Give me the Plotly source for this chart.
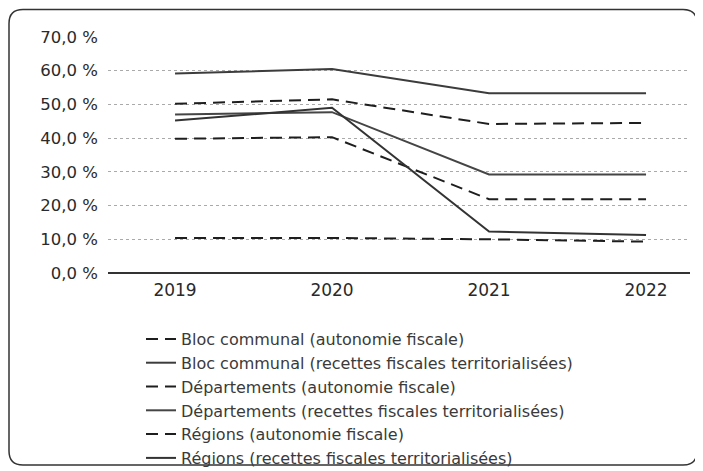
import plotly.graph_objects as go

years = [2019, 2020, 2021, 2022]
bloc_auto = [50.2, 51.5, 44.2, 44.5]
bloc_rft = [59.2, 60.5, 53.3, 53.3]
dep_auto = [39.8, 40.3, 21.9, 21.9]
dep_rft = [47.0, 47.7, 29.2, 29.2]
reg_auto = [10.4, 10.4, 10.0, 9.3]
reg_rft = [45.2, 49.0, 12.3, 11.3]

names = [
    "Bloc communal (autonomie fiscale)",
    "Bloc communal (recettes fiscales territorialisées)",
    "Départements (autonomie fiscale)",
    "Départements (recettes fiscales territorialisées)",
    "Régions (autonomie fiscale)",
    "Régions (recettes fiscales territorialisées)",
]
series = [bloc_auto, bloc_rft, dep_auto, dep_rft, reg_auto, reg_rft]
dashes = ["12px,7px", "solid", "12px,7px", "solid", "12px,7px", "solid"]
colors = ["#1e1e1e", "#3c3c3c", "#1e1e1e", "#454545", "#1e1e1e", "#333333"]

ytick_vals = [0, 10, 20, 30, 40, 50, 60, 70]
ytick_text = ["0,0 %", "10,0 %", "20,0 %", "30,0 %", "40,0 %", "50,0 %", "60,0 %", "70,0 %"]

fig = go.Figure()
for i, (n, s) in enumerate(zip(names, series)):
    fig.add_trace(go.Scatter(
        x=years, y=s, name=n, mode="lines",
        line=dict(color=colors[i], width=2, dash=dashes[i]),
        legendgroup=str(i),
    ))

# page has an 8px body margin: figure pixel = page pixel - 8
W, H = 695, 463
L, R, T, B = 100, 13, 29, 198
pw, ph = W - L - R, H - T - B

def px(x):
    return (x - L) / pw

def py(y):
    return (H - B - y) / ph

# rounded frame
x0, x1, yt, yb = px(1), px(689), py(1.5), py(457)
r = 14
rx, ry = r / pw, r / ph
path = (f"M {x0+rx},{yt} L {x1-rx},{yt} Q {x1},{yt} {x1},{yt-ry} "
        f"L {x1},{yb+ry} Q {x1},{yb} {x1-rx},{yb} "
        f"L {x0+rx},{yb} Q {x0},{yb} {x0},{yb+ry} "
        f"L {x0},{yt-ry} Q {x0},{yt} {x0+rx},{yt} Z")

fig.update_layout(
    width=W, height=H,
    margin=dict(l=L, r=R, t=T, b=B, autoexpand=False),
    paper_bgcolor="white", plot_bgcolor="white",
    font=dict(family="DejaVu Sans", color="#2a2a2a", size=15),
    xaxis=dict(
        range=[2018.573, 2022.28], tickvals=years, ticktext=[str(y) for y in years],
        showgrid=False, zeroline=False, showline=False, ticks="",
        tickfont=dict(size=17, color="#2a2a2a"), ticklabelstandoff=5,
    ),
    yaxis=dict(
        range=[0, 70], tickvals=ytick_vals, ticktext=ytick_text,
        showgrid=True, gridcolor="#aaaaaa", griddash="dot", gridwidth=1,
        zeroline=True, zerolinecolor="#333333", zerolinewidth=1.5,
        showline=False, ticks="", tickfont=dict(size=16.5, color="#2a2a2a"),
        ticklabelstandoff=9,
    ),
    legend=dict(
        orientation="v", x=px(133), y=py(314), xanchor="left", yanchor="top",
        font=dict(size=16, color="#3a3a3a"), tracegroupgap=0,
        itemwidth=30, bgcolor="rgba(0,0,0,0)",
    ),
    showlegend=True,
    shapes=[dict(type="path", xref="paper", yref="paper", path=path,
                 line=dict(color="#333333", width=1.5), layer="below")],
)

fig.write_html("out.html")
